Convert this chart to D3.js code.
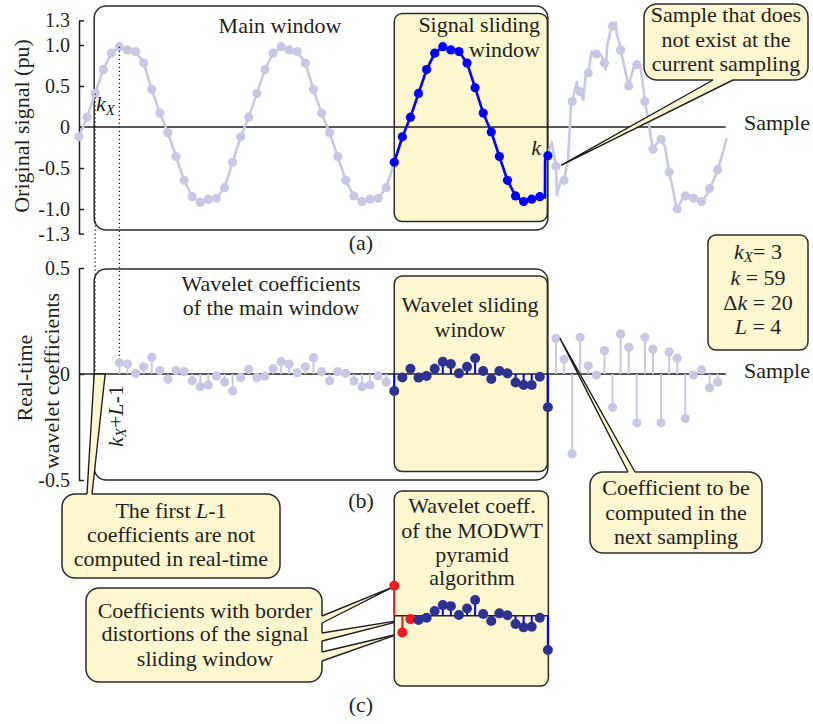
<!DOCTYPE html>
<html><head><meta charset="utf-8">
<script src="https://cdn.jsdelivr.net/npm/d3@7"></script>
<style>
body{margin:0;background:#fff}
svg{display:block}
text{font-family:"Liberation Serif","Times New Roman",serif;fill:#231f20}
</style>
</head><body>
<svg id="c" width="813" height="724"></svg>
<script>
// ---------------- data ----------------
const kx = 3, k = 59, dk = 20, L = 4;
// original signal, samples 1..80 (pu)
const signal = [
 -0.12, 0.12, 0.41, 0.70, 0.90, 0.98, 0.94, 0.92, 0.78, 0.46, 0.17, -0.07, -0.36, -0.65, -0.85, -0.92, -0.88, -0.87, -0.74, -0.43,
 -0.12, 0.12, 0.41, 0.70, 0.90, 0.98, 0.94, 0.92, 0.78, 0.46, 0.17, -0.07, -0.36, -0.65, -0.84, -0.91, -0.88, -0.87, -0.74, -0.43,
 -0.12, 0.12, 0.41, 0.70, 0.90, 0.98, 0.94, 0.92, 0.78, 0.48, 0.17, -0.06, -0.36, -0.65, -0.84, -0.91, -0.88, -0.85, -0.35,
 -0.48, -0.65, 0.31, 0.43, 0.66, 0.89, 0.78, 1.23, 0.94, 0.50, 0.76, 0.31, -0.27, -0.15, -0.55, -1.00, -0.84, -0.87, -0.91, -0.75, -0.52];
// continuous signal trace after sample 58 (sample position, value)
const tracePos = [58.64,58.66,59,59.47,60,60.12,60.5,61,61.49,61.86,62,62.57,62.77,63,63.38,63.68,64,64.42,64.83,65,65.57,66,66.15,66.35,66.77,67,67.39,67.51,67.74,68,68.54,69,69.57,70,70.4,70.8,71,71.42,71.76,72,72.46,73,73.49,74,74.51,74.85,75,75.55,76,76.46,77,77.6,78,78.65,79,79.67,80,80.63,81.12];
const traceVal = [-0.86,-0.40,-0.35,-0.18,-0.48,-0.83,-0.68,-0.65,-0.40,0.27,0.31,0.55,0.43,0.43,0.33,0.63,0.66,0.92,0.86,0.89,0.88,0.78,0.70,1.00,1.18,1.23,1.28,1.14,1.06,0.94,0.70,0.50,0.72,0.76,0.76,0.49,0.31,0.085,-0.14,-0.27,-0.20,-0.15,-0.24,-0.55,-0.77,-0.97,-1.00,-0.89,-0.84,-0.83,-0.87,-0.89,-0.91,-0.83,-0.75,-0.61,-0.52,-0.32,-0.14];
// real-time wavelet coefficients, samples 6..80
const coefStart = 6;
const coefs = [
 0.053, 0.047, 0.003, 0.034, 0.079, 0.016, -0.025, 0.016, 0.011, -0.032, -0.060, -0.052, -0.009, -0.038, -0.080,
 -0.016, 0.022, -0.016, -0.010, 0.025, 0.058, 0.047, 0.006, 0.034, 0.077, 0.011, -0.032, 0.011, 0.003, -0.033, -0.060, -0.052, -0.009, -0.038, -0.080,
 -0.016, 0.025, -0.017, -0.009, 0.025, 0.058, 0.047, 0.003, 0.034, 0.074, 0.014, -0.024, 0.014, 0.003, -0.040, -0.052, -0.052, -0.013, -0.157,
 0.168, 0.069, -0.377, 0.173, 0.039, -0.005, 0.110, -0.157, 0.189, 0.126, -0.230, 0.173, 0.117, -0.230, 0.105, 0.074, -0.209, -0.005, 0.019, -0.065, -0.039];
// MODWT pyramid coefficients of the signal sliding window, samples 40..59
const modwtStart = 40;
const modwt = [0.141, -0.079, -0.016, -0.020, -0.010, 0.022, 0.050, 0.045, 0.003, 0.034, 0.074, 0.008, -0.025, 0.011, 0.002, -0.039, -0.055, -0.052, -0.010, -0.162];
const ticksA = [1.3, 1.0, 0.5, 0, -0.5, -1.0, -1.3];
const tickLabelsA = ["1.3","1.0","0.5","0","-0.5","-1.0","-1.3"];
const ticksB = [0.5, 0, -0.5];
const tickLabelsB = ["0.5","0","-0.5"];

// ---------------- styles ----------------
const LAV = "#c8c8e5", BLUE = "#0000ff", NAVY = "#2d3192", RED = "#ed1c24",
      YEL = "#fdf7cf", INK = "#231f20";

const svg = d3.select("#c");
const x = d3.scaleLinear().domain([1, 81]).range([79, 79 + 80 * 8.084]);
const yA = d3.scaleLinear().domain([-1.3, 1.3]).range([233.6, 20.4]);
const yB = d3.scaleLinear().domain([-0.5, 0.5]).range([480, 268]);
const yC = d3.scaleLinear().domain([-0.5, 0.5]).range([721.7, 509.7]);

const sigPts = signal.map((v, i) => ({s: i + 1, v}));
const tracePts = tracePos.map((p, i) => ({s: p, v: traceVal[i]}));
const coefPts = coefs.map((v, i) => ({s: coefStart + i, v}));
const modPts = modwt.map((v, i) => ({s: modwtStart + i, v}));
const winStart = k - dk + 1;

function box(g, x0, y0, x1, y1, r, fill) {
  return g.append("rect").attr("x", x0).attr("y", y0).attr("width", x1 - x0).attr("height", y1 - y0)
    .attr("rx", r).attr("fill", fill || "none").attr("stroke", "#2b2b2b").attr("stroke-width", 1.5);
}
function rich(g, xx, yy, parts, anchor, size) {
  const t = g.append("text").attr("x", xx).attr("y", yy).attr("text-anchor", anchor || "middle")
    .attr("font-size", size || 22);
  parts.forEach(p => {
    const ts = t.append("tspan").text(p.t);
    if (p.i) ts.attr("font-style", "italic");
    if (p.fs) ts.attr("font-size", p.fs);
    if (p.dy) ts.attr("dy", p.dy);
  });
  return t;
}
function lines(g, cx, baselines, strs, size) {
  strs.forEach((s, i) => {
    if (typeof s === "string") rich(g, cx, baselines[i], [{t: s}], "middle", size);
    else rich(g, cx, baselines[i], s, "middle", size);
  });
}
function callout(g, b, tails, cx, baselines, strs) {
  const inward = {top: [0, 3], bottom: [0, -3], left: [3, 0], right: [-3, 0]};
  box(g, b[0], b[1], b[2], b[3], 13, YEL);
  tails.forEach(tl => {
    const d = inward[tl.side];
    const pts = [tl.base[0], ...tl.tip, tl.base[1]];
    const poly = [...pts, [tl.base[1][0] + d[0], tl.base[1][1] + d[1]], [tl.base[0][0] + d[0], tl.base[0][1] + d[1]]];
    g.append("path").attr("d", "M" + poly.map(p => p.join(",")).join("L") + "Z").attr("fill", YEL).attr("stroke", "none");
    g.append("path").attr("d", "M" + pts.map(p => p.join(",")).join("L")).attr("fill", "none")
      .attr("stroke", "#1f1f1f").attr("stroke-width", 1.4).attr("stroke-linejoin", "miter");
  });
  lines(g, cx, baselines, strs, 22);
}

// ---------------- panel (a) ----------------
const gA = svg.append("g");
box(gA, x(kx) - 1, 6, x(k), 230, 12);
box(gA, x(winStart), 13.5, x(k) - 0.5, 221.5, 8, YEL);

// dotted guides
const gD = svg.append("g").attr("stroke", INK).attr("stroke-width", 1.3).attr("stroke-dasharray", "1.3,2.7");
gD.append("line").attr("x1", x(kx)).attr("x2", x(kx)).attr("y1", yA(signal[kx - 1])).attr("y2", yB(0));
gD.append("line").attr("x1", x(kx + L - 1)).attr("x2", x(kx + L - 1))
  .attr("y1", yA(signal[kx + L - 2])).attr("y2", yB(coefs[kx + L - 1 - coefStart]));

// zero line + axis
gA.append("line").attr("x1", x(1)).attr("x2", x(81)).attr("y1", yA(0)).attr("y2", yA(0)).attr("stroke", INK).attr("stroke-width", 1.5);
const axA = gA.append("g").attr("transform", `translate(${x(1)},0)`)
  .call(d3.axisLeft(yA).tickValues(ticksA).tickFormat(d => tickLabelsA[ticksA.indexOf(d)])
    .tickSizeInner(-5).tickSizeOuter(0).tickPadding(9));
axA.attr("font-family", null).attr("font-size", 20);
axA.selectAll("path,line").attr("stroke", INK).attr("stroke-width", 1.5);
axA.selectAll("text").attr("fill", INK);

const lineGen = d3.line().x(d => x(d.s)).y(d => yA(d.v));
const lightPath = sigPts.filter(d => d.s <= 58).concat(tracePts);
gA.append("path").attr("d", lineGen(lightPath)).attr("fill", "none").attr("stroke", LAV).attr("stroke-width", 2.6).attr("stroke-linejoin", "round");
gA.selectAll("circle.l").data(sigPts.filter(d => d.s < winStart || d.s > k)).join("circle")
  .attr("cx", d => x(d.s)).attr("cy", d => yA(d.v)).attr("r", 4.6).attr("fill", LAV);
const bluePath = sigPts.filter(d => d.s >= winStart && d.s <= 58).concat(tracePts.filter(d => d.s <= k));
gA.append("path").attr("d", lineGen(bluePath)).attr("fill", "none").attr("stroke", BLUE).attr("stroke-width", 2.6).attr("stroke-linejoin", "round");
gA.selectAll("circle.b").data(sigPts.filter(d => d.s >= winStart && d.s <= k)).join("circle")
  .attr("cx", d => x(d.s)).attr("cy", d => yA(d.v)).attr("r", 4.6).attr("fill", BLUE);

rich(gA, 280, 33, [{t: "Main window"}]);
rich(gA, 540, 32, [{t: "Signal sliding"}], "end");
rich(gA, 540, 57, [{t: "window"}], "end");
rich(gA, 744, 130, [{t: "Sample"}], "start");
rich(gA, 361, 250, [{t: "(a)"}], "middle");
rich(gA, 96, 111, [{t: "k", i: 1}, {t: "X", i: 1, fs: 15, dy: 4}], "start");
rich(gA, 541, 155, [{t: "k", i: 1}], "end");
gA.append("text").attr("transform", "translate(29,126) rotate(-90)").attr("text-anchor", "middle")
  .attr("font-size", 22).text("Original signal (pu)");

// ---------------- panel (b) ----------------
const gB = svg.append("g");
box(gB, x(kx) - 1, 269, x(k), 480, 12);
box(gB, x(winStart), 276, x(k) - 0.5, 471.5, 8, YEL);
gB.append("line").attr("x1", x(1)).attr("x2", x(81)).attr("y1", yB(0)).attr("y2", yB(0)).attr("stroke", INK).attr("stroke-width", 1.5);
const axB = gB.append("g").attr("transform", `translate(${x(1)},0)`)
  .call(d3.axisLeft(yB).tickValues(ticksB).tickFormat(d => tickLabelsB[ticksB.indexOf(d)])
    .tickSizeInner(-5).tickSizeOuter(0).tickPadding(9));
axB.attr("font-family", null).attr("font-size", 20);
axB.selectAll("path,line").attr("stroke", INK).attr("stroke-width", 1.5);
axB.selectAll("text").attr("fill", INK);

const inWin = d => d.s >= winStart && d.s <= k;
gB.selectAll("line.st").data(coefPts).join("line")
  .attr("x1", d => x(d.s)).attr("x2", d => x(d.s)).attr("y1", yB(0)).attr("y2", d => yB(d.v))
  .attr("stroke", d => inWin(d) ? BLUE : LAV).attr("stroke-width", 2);
gB.selectAll("circle.c").data(coefPts).join("circle")
  .attr("cx", d => x(d.s)).attr("cy", d => yB(d.v)).attr("r", d => inWin(d) ? 5 : 4.6)
  .attr("fill", d => inWin(d) ? NAVY : LAV);

lines(gB, 271, [291, 315], ["Wavelet coefficients", "of the main window"], 22);
lines(gB, 470, [312, 337], ["Wavelet sliding", "window"], 22);
rich(gB, 744, 378, [{t: "Sample"}], "start");
rich(gB, 361, 508, [{t: "(b)"}], "middle");
gB.append("text").attr("transform", "translate(32,378) rotate(-90)").attr("text-anchor", "middle")
  .attr("font-size", 22).text("Real-time");
gB.append("text").attr("transform", "translate(59,381) rotate(-90)").attr("text-anchor", "middle")
  .attr("font-size", 22).text("wavelet coefficients");
const kl = gB.append("text").attr("transform", `translate(${x(kx + L - 1) + 4},447) rotate(-90)`).attr("text-anchor", "start").attr("font-size", 22);
kl.append("tspan").attr("font-style", "italic").text("k");
kl.append("tspan").attr("font-style", "italic").attr("font-size", 15).attr("dy", 3).text("X");
kl.append("tspan").attr("dy", -3).text("+");
kl.append("tspan").attr("font-style", "italic").text("L");
kl.append("tspan").text("-1");

// params box
box(gB, 708, 235, 808, 350, 8, YEL);
rich(gB, 758, 259, [{t: "k", i: 1}, {t: "X", i: 1, fs: 15, dy: 3}, {t: "= " + kx, dy: -3}]);
rich(gB, 758, 285, [{t: "k", i: 1}, {t: " = " + k}]);
rich(gB, 758, 310, [{t: "Δ"}, {t: "k", i: 1}, {t: " = " + dk}]);
rich(gB, 758, 334, [{t: "L", i: 1}, {t: " = " + L}]);

// ---------------- panel (c) ----------------
const gC = svg.append("g");
box(gC, x(winStart), 491, x(k) + 0.5, 686, 8, YEL);
lines(gC, 472, [513, 538, 562, 585], ["Wavelet coeff.", "of the MODWT", "pyramid", "algorithm"], 22);
gC.append("line").attr("x1", x(winStart)).attr("x2", x(k)).attr("y1", yC(0)).attr("y2", yC(0)).attr("stroke", INK).attr("stroke-width", 1.5);
const border = d => d.s < winStart + L - 1;
gC.selectAll("line.st").data(modPts).join("line")
  .attr("x1", d => x(d.s)).attr("x2", d => x(d.s)).attr("y1", yC(0)).attr("y2", d => yC(d.v))
  .attr("stroke", d => border(d) ? RED : BLUE).attr("stroke-width", 2);
rich(gC, 361, 712, [{t: "(c)"}], "middle");

// ---------------- callouts ----------------
const gK = svg.append("g");
callout(gK, [644, 4, 808, 80],
  [{side: "bottom", base: [[713, 80], [733, 80]], tip: [[x(k + 1) + 5, yA(signal[k]) - 1]]}],
  726, [22, 46.5, 71], ["Sample that does", "not exist at the", "current sampling"]);
callout(gK, [590, 472, 762, 553],
  [{side: "top", base: [[628, 472], [635, 472]], tip: [[x(k + 1) + 4, yB(coefs[k + 1 - coefStart])]]}],
  676, [495, 520, 544], ["Coefficient to be", "computed in the", "next sampling"]);
callout(gK, [62, 494, 280, 578],
  [{side: "top", base: [[87, 494], [92, 494]], tip: [[x(kx) - 1, yB(0)], [x(kx) + 10, yB(0)]]}],
  171, [518, 542, 566],
  [[{t: "The first "}, {t: "L", i: 1}, {t: "-1"}], "coefficients are not", "computed in real-time"]);
callout(gK, [86, 588, 322, 682],
  [{side: "right", base: [[322, 616], [322, 623]], tip: [[x(modwtStart) - 1, yC(modwt[0]) + 1]]},
   {side: "right", base: [[322, 633], [322, 641]], tip: [[x(modwtStart + 2) - 3, yC(modwt[2])]]},
   {side: "right", base: [[322, 652], [322, 661]], tip: [[x(modwtStart + 1) - 2, yC(modwt[1]) + 1]]}],
  205, [618, 641, 666], ["Coefficients with border", "distortions of the signal", "sliding window"]);

// dots of panel (c) on top of the callout tails
gC.raise();
gC.selectAll("circle.m").data(modPts).join("circle")
  .attr("cx", d => x(d.s)).attr("cy", d => yC(d.v)).attr("r", 5)
  .attr("fill", d => border(d) ? RED : NAVY);
</script>
</body></html>
